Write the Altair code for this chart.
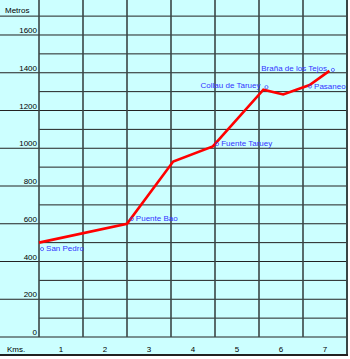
import altair as alt
import pandas as pd

# Profile of the route (km, metres)
route_km = [0, 2, 3.05, 3.95, 5.1, 5.55, 6.15, 6.6]
route_elev = [500, 600, 930, 1010, 1310, 1285, 1335, 1410]

# Place labels
place_names = ["San Pedro", "Puente Bao", "Fuente Taruey", "Collau de Taruey", "Pasaneo", "Braña de los Tejos"]
place_km = [0.07, 2.11, 4.05, 5.17, 6.16, 6.68]
place_elev = [466, 625, 1022, 1324, 1327, 1415]
place_side = ["right", "right", "right", "left", "right", "left"]

# Axes
y_ticks = [0, 200, 400, 600, 800, 1000, 1200, 1400, 1600]
y_major_lines = [0, 200, 400, 600, 800, 1000, 1200, 1400, 1600, 1700]
y_minor_lines = [100, 300, 500, 700, 900, 1100, 1300, 1500]
x_cols = [1, 2, 3, 4, 5, 6, 7]
x_lines = [0, 1, 2, 3, 4, 5, 6]

FONT = "Liberation Sans"
BLUE = "#3333ff"
GRID = "#222222"

xs = alt.Scale(domain=[-39 / 44, 309 / 44], nice=False, zero=False)
ys = alt.Scale(domain=[-100.66, 1785.43], nice=False, zero=False)

route = pd.DataFrame({"km": route_km, "elev": route_elev})
places = pd.DataFrame({"km": place_km, "elev": place_elev, "name": place_names, "side": place_side})
places_r = places[places.side == "right"]
places_l = places[places.side == "left"]
ticks = pd.DataFrame({"elev": y_ticks, "lab": [str(v) for v in y_ticks]})
major = pd.DataFrame({"elev": y_major_lines})
minor = pd.DataFrame({"elev": y_minor_lines})
cols = pd.DataFrame({"mid": [c - 0.5 for c in x_cols], "lab": [str(c) for c in x_cols]})
vlines = pd.DataFrame({"km": x_lines, "base": [0] * len(x_lines)})

vgrid = alt.Chart(vlines).mark_rule(color="#3a4646", strokeWidth=1.6).encode(
    x=alt.X("km:Q", scale=xs, axis=None),
    y=alt.Y("base:Q", scale=ys, axis=None),
    y2=alt.value(0),
)
hmajor = alt.Chart(major).mark_rule(color=GRID, strokeWidth=1).encode(
    x=alt.value(0),
    x2=alt.value(347),
    y=alt.Y("elev:Q", scale=ys, axis=None),
)
hminor = alt.Chart(minor).mark_rule(color=GRID, strokeWidth=1).encode(
    x=alt.value(39),
    x2=alt.value(347),
    y=alt.Y("elev:Q", scale=ys, axis=None),
)
border_r = alt.Chart(vlines).mark_rule(color="#3a4646", strokeWidth=1.6).encode(
    x=alt.value(347), y=alt.value(0), y2=alt.value(356)
)
border_b = alt.Chart(vlines).mark_rule(color="#222222", strokeWidth=1.5).encode(
    x=alt.value(0), x2=alt.value(348), y=alt.value(355)
)

ylabels = alt.Chart(ticks).mark_text(
    font=FONT, fontSize=8, align="right", baseline="alphabetic", dy=-2, color="black"
).encode(x=alt.value(37), y=alt.Y("elev:Q", scale=ys, axis=None), text="lab:N")

metros = alt.Chart(pd.DataFrame({"t": ["Metros"]})).mark_text(
    font=FONT, fontSize=8, align="left", baseline="alphabetic", color="black"
).encode(x=alt.value(5), y=alt.value(13), text="t:N")

kms = alt.Chart(pd.DataFrame({"t": ["Kms."]})).mark_text(
    font=FONT, fontSize=8, align="left", baseline="alphabetic", color="black"
).encode(x=alt.value(7), y=alt.value(352), text="t:N")

xlabels = alt.Chart(cols).mark_text(
    font=FONT, fontSize=8, align="center", baseline="alphabetic", color="black"
).encode(x=alt.X("mid:Q", scale=xs, axis=None), y=alt.value(352), text="lab:N")

line = alt.Chart(route).mark_line(color="#ff0000", strokeWidth=2.6).encode(
    x=alt.X("km:Q", scale=xs, axis=None),
    y=alt.Y("elev:Q", scale=ys, axis=None),
)

markers = alt.Chart(places).mark_point(
    shape="circle", filled=False, size=10, color=BLUE, strokeWidth=1
).encode(x=alt.X("km:Q", scale=xs, axis=None), y=alt.Y("elev:Q", scale=ys, axis=None))

text_r = alt.Chart(places_r).mark_text(
    font=FONT, fontSize=8, align="left", baseline="middle", dx=4, color=BLUE
).encode(x=alt.X("km:Q", scale=xs, axis=None), y=alt.Y("elev:Q", scale=ys, axis=None), text="name:N")

text_l = alt.Chart(places_l).mark_text(
    font=FONT, fontSize=8, align="right", baseline="middle", dx=-6, dy=-1, color=BLUE
).encode(x=alt.X("km:Q", scale=xs, axis=None), y=alt.Y("elev:Q", scale=ys, axis=None), text="name:N")

chart = alt.layer(
    hminor, hmajor, vgrid, border_r, border_b, ylabels, metros, kms, xlabels,
    line, markers, text_r, text_l
).properties(
    width=348, height=356, padding=0, autosize=alt.AutoSizeParams(type="none"),
    background="white",
).configure_view(fill="#ccffff", stroke=None)

chart.save("out.html", embed_options={"renderer": "svg", "actions": False})
